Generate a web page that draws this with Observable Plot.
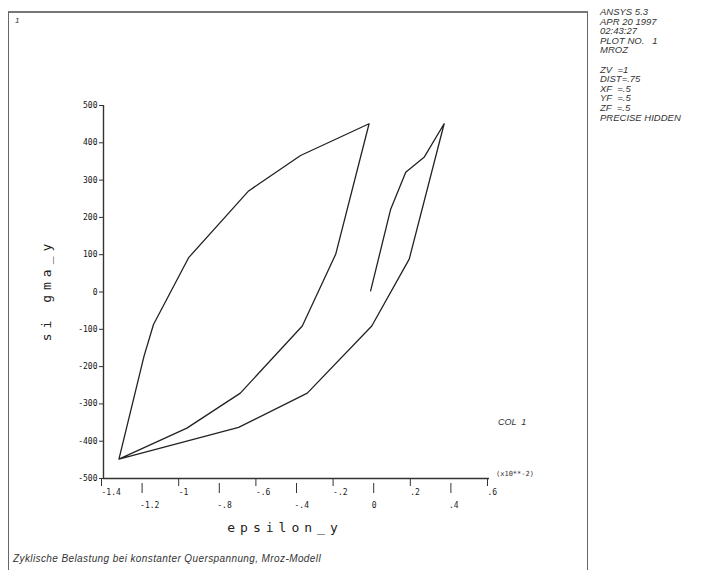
<!DOCTYPE html>
<html>
<head>
<meta charset="utf-8">
<script src="https://cdn.jsdelivr.net/npm/d3@7"></script>
<script src="https://cdn.jsdelivr.net/npm/@observablehq/plot@0.6"></script>
<style>
  html, body { margin: 0; padding: 0; background: #fff; }
  #wrap { position: relative; width: 703px; height: 570px; overflow: hidden; background: #fff; }
  #chart { position: absolute; left: 0; top: 0; }
  .frame { position: absolute; left: 8px; top: 11px; width: 578px; height: 600px;
           border-left: 1.5px solid #666; border-right: 1.5px solid #666; border-top: 2px solid #777; }
  .note { position: absolute; font-family: "Liberation Sans", Arial, sans-serif; font-style: italic; color: #333; white-space: pre; }
  .side { left: 600px; top: 7px; font-size: 9.5px; line-height: 9.6px; }
  .caption { left: 13px; top: 553px; font-size: 10px; letter-spacing: 0.4px; }
  .one { left: 15px; top: 16px; font-size: 8px; }
  .col { left: 498px; top: 417px; font-size: 9px; }
  .scale { left: 496px; top: 470px; font-size: 7px; font-family: "DejaVu Sans Mono", monospace; font-style: normal; }
  .xlab { position: absolute; left: 285px; top: 527px; transform: translate(-50%, -50%);
          font-family: "DejaVu Sans Mono", monospace; font-size: 13px; letter-spacing: 5px; color: #222; }
  .ylab { position: absolute; left: 46px; top: 290px; transform: translate(-50%, -50%) rotate(-90deg);
          font-family: "DejaVu Sans Mono", monospace; font-size: 13px; letter-spacing: 5px; color: #222; white-space: pre; }
</style>
</head>
<body>
<div id="wrap">
  <div class="frame"></div>
  <div id="chart"></div>
  <div class="note one">1</div>
  <div class="note side">ANSYS 5.3
APR 20 1997
02:43:27
PLOT NO.   1
MROZ

ZV  =1
DIST=.75
XF  =.5
YF  =.5
ZF  =.5
PRECISE HIDDEN</div>
  <div class="note col">COL  1</div>
  <div class="note scale">(x10**-2)</div>
  <div class="xlab">epsilon_y</div>
  <div class="ylab">si gma_y</div>
  <div class="note caption">Zyklische Belastung bei konstanter Querspannung, Mroz-Modell</div>
</div>
<script>
// strain (x10^-2) and stress along the loading path
const epsilon = [-0.016, 0.088, 0.166, 0.261, 0.365, 0.184, -0.010, -0.344, -0.700, -1.320,
                 -1.190, -1.141, -0.959, -0.648, -0.379, -0.024, -0.197, -0.370, -0.691, -0.968, -1.320];
const sigma   = [3, 222, 321, 361, 451, 88, -91, -271, -363, -448,
                 -172, -87, 92, 271, 366, 451, 101, -91, -271, -365, -448];

const xDomain = [-1.4, 0.6];
const yDomain = [-500, 500];
const yTicks = [500, 400, 300, 200, 100, 0, -100, -200, -300, -400, -500];
const xTicksRow1 = [-1.4, -1.0, -0.6, -0.2, 0.2, 0.6];
const xLabelsRow1 = ["-1.4", "-1", "-.6", "-.2", ".2", ".6"];
const xTicksRow2 = [-1.2, -0.8, -0.4, 0.0, 0.4];
const xLabelsRow2 = ["-1.2", "-.8", "-.4", "0", ".4"];

const data = epsilon.map((e, i) => ({eps: e, sig: sigma[i]}));
const fmt = (ticks, labels) => d => labels[ticks.findIndex(t => Math.abs(t - d) < 1e-9)];

const chart = Plot.plot({
  width: 703,
  height: 570,
  marginLeft: 103,
  marginRight: 214,
  marginTop: 105,
  marginBottom: 92,
  x: {domain: xDomain},
  y: {domain: yDomain},
  style: {background: "transparent", fontFamily: "DejaVu Sans Mono, monospace", fontSize: "8px", color: "#222"},
  marks: [
    Plot.ruleX([xDomain[0]], {stroke: "#333", strokeWidth: 1.4}),
    Plot.ruleY([yDomain[0]], {stroke: "#333", strokeWidth: 1.4}),
    Plot.axisY({ticks: yTicks, tickSize: 4, tickPadding: 2, tickFormat: d => String(d), label: null, stroke: "#333", fill: "#111"}),
    Plot.axisX({ticks: xTicksRow1, tickSize: 8, tickPadding: 3, tickFormat: fmt(xTicksRow1, xLabelsRow1),
                textAnchor: "start", dx: -2, label: null, stroke: "#333", fill: "#222"}),
    Plot.axisX({ticks: xTicksRow2, tickSize: 10, fill: "none", dy: 5, label: null, stroke: "#333"}),
    Plot.axisX({ticks: xTicksRow2, tickSize: 0, tickPadding: 24, tickFormat: fmt(xTicksRow2, xLabelsRow2),
                textAnchor: "start", dx: -2, label: null, fill: "#222"}),
    Plot.line(data, {x: "eps", y: "sig", stroke: "#222", strokeWidth: 1.3})
  ]
});
document.getElementById("chart").appendChild(chart);
</script>
</body>
</html>
